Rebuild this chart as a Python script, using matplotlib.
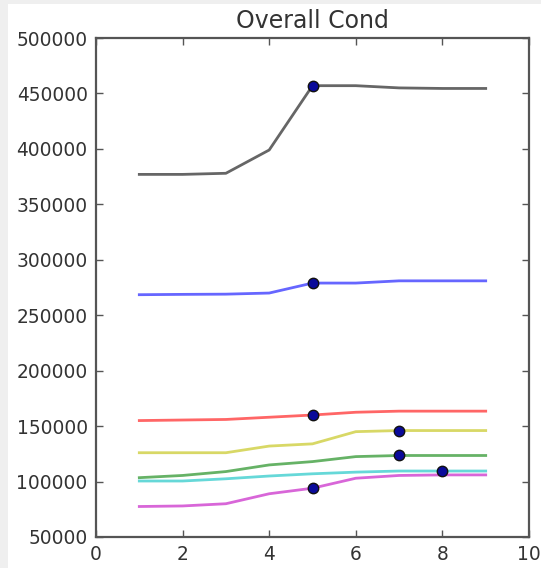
import matplotlib
matplotlib.use("Agg")
import matplotlib.pyplot as plt
from matplotlib.patches import Rectangle

# Condition totals per step for each group
steps = [1, 2, 3, 4, 5, 6, 7, 8, 9]
series_black = [377000, 377000, 378000, 399000, 457000, 457000, 455000, 454500, 454500]
series_blue = [268500, 268800, 269000, 270000, 279000, 279000, 281000, 281000, 281000]
series_red = [155000, 155500, 156000, 158000, 160000, 162500, 163500, 163500, 163500]
series_yellow = [126000, 126000, 126000, 132000, 134000, 145000, 146000, 146000, 146000]
series_green = [103500, 105500, 109000, 115000, 118000, 122500, 123500, 123500, 123500]
series_cyan = [100500, 100500, 102500, 105000, 107000, 108500, 109500, 109500, 109500]
series_magenta = [77500, 78000, 80000, 89000, 94000, 103000, 105500, 106000, 106000]

# Step at which each group is marked
marked_steps = [5, 5, 5, 7, 7, 8, 5]

all_series = [series_black, series_blue, series_red, series_yellow,
              series_green, series_cyan, series_magenta]
line_colors = ["k", "b", "r", "y", "g", "c", "m"]

x_ticks = [0, 2, 4, 6, 8, 10]
y_ticks = [50000, 100000, 150000, 200000, 250000, 300000, 350000, 400000, 450000, 500000]

fig = plt.figure(figsize=(5.41, 5.68), dpi=100, facecolor="white")
# thin grey frame strips on the left and top edges
fig.patches.append(Rectangle((0, 0), 8 / 541, 1, transform=fig.transFigure,
                             facecolor="#efefef", edgecolor="none", zorder=-10))
fig.patches.append(Rectangle((0, 1 - 4 / 568), 1, 4 / 568, transform=fig.transFigure,
                             facecolor="#efefef", edgecolor="none", zorder=-10))

ax = fig.add_axes([96 / 541, 1 - 537 / 568, (529 - 96) / 541, (537 - 38) / 568])

for vals, col in zip(all_series, line_colors):
    ax.plot(steps, vals, color=col, alpha=0.6, linewidth=2, zorder=2)

for vals, s in zip(all_series, marked_steps):
    ax.plot([s], [vals[steps.index(s)]], "o", markersize=7.5,
            markerfacecolor="#0a0a9a", markeredgecolor="#111111",
            markeredgewidth=1.0, zorder=3)

ax.set_xlim(0, 10)
ax.set_ylim(50000, 500000)
ax.set_xticks(x_ticks)
ax.set_yticks(y_ticks)
ax.set_xticklabels([str(v) for v in x_ticks])
ax.set_yticklabels([str(v) for v in y_ticks])

ax.tick_params(direction="in", top=True, right=True, length=5, width=1,
               color="#555555", labelsize=13.4, labelcolor="#333333", pad=6)
for sp in ax.spines.values():
    sp.set_color("#555555")
    sp.set_linewidth(1.6)

ax.set_title("Overall Cond", fontsize=17, color="#333333", pad=7)

fig.savefig("out.png", dpi=100, facecolor=fig.get_facecolor())
